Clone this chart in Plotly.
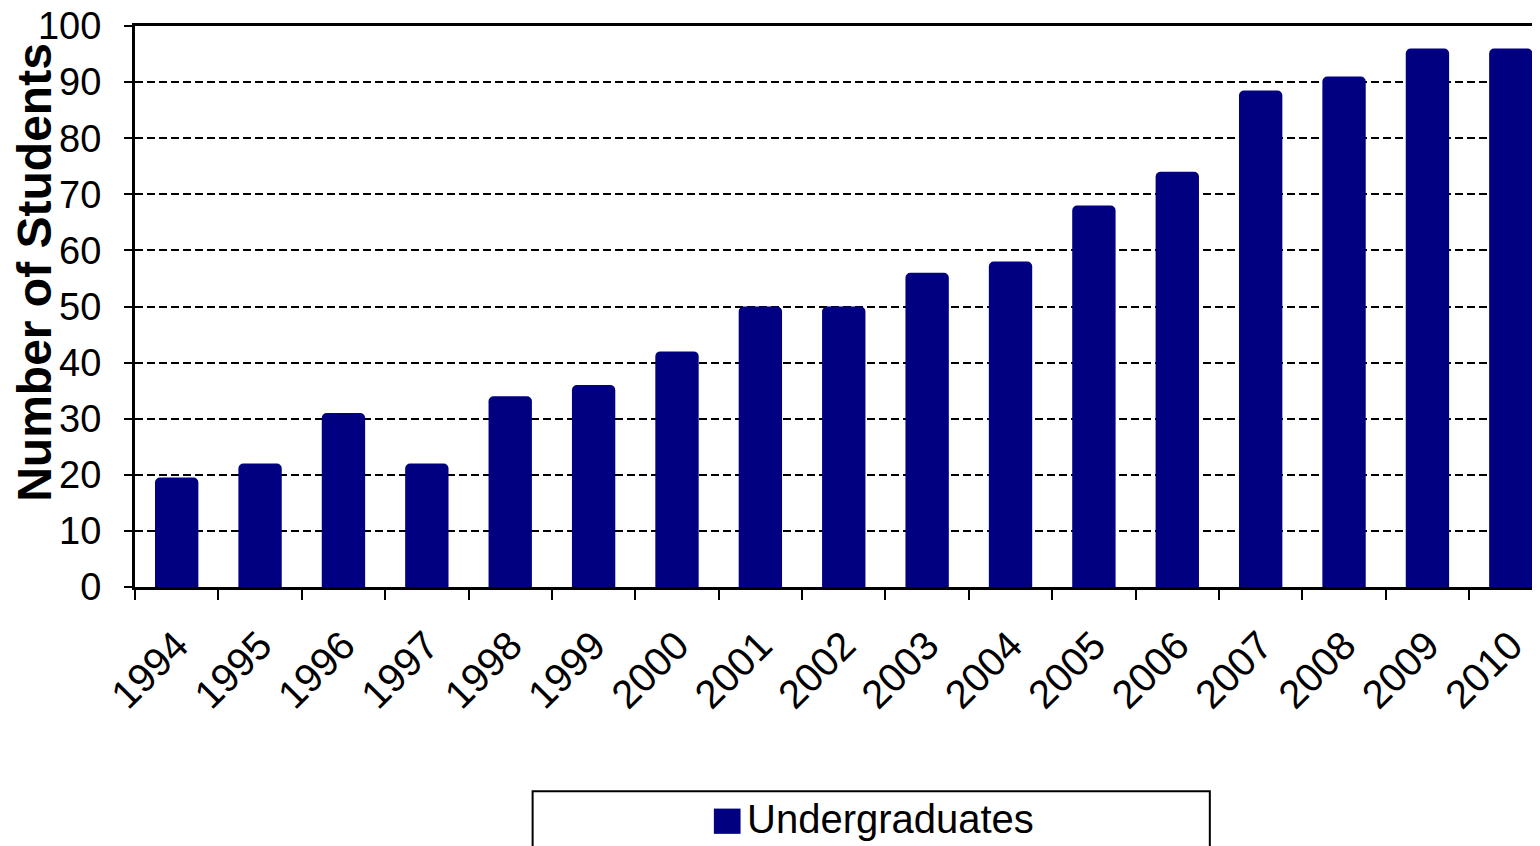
"""
Undergraduate enrolment per year: bar chart, Excel-style look.
"""

import plotly.graph_objects as go

years = ['1994', '1995', '1996', '1997', '1998', '1999', '2000', '2001', '2002',
         '2003', '2004', '2005', '2006', '2007', '2008', '2009', '2010']
undergraduates = [19.5, 22, 31, 22, 34, 36, 42, 50, 50,
                  56, 58, 68, 74, 88.5, 91, 96, 96]
y_ticks = [0, 10, 20, 30, 40, 50, 60, 70, 80, 90, 100]

NAVY = '#000080'
FONT = 'Arial, Liberation Sans, sans-serif'

fig = go.Figure()
fig.add_trace(go.Bar(
    x=years, y=undergraduates, name='Undergraduates',
    marker=dict(color=NAVY, line=dict(width=0), cornerradius=5),
    showlegend=False,
))

# page body has an 8px margin, so the figure is a bit smaller than the window
fig.update_layout(
    width=1532, height=838,
    margin=dict(l=127, r=0, t=18, b=259, autoexpand=False),
    plot_bgcolor='#FFFFFF', paper_bgcolor='#FFFFFF',
    bargap=0.48,
    font=dict(family=FONT, color='#000000'),
)

fig.update_xaxes(
    type='category', range=[-0.5, 16.35], automargin=False,
    showline=True, linecolor='#000000', linewidth=3, mirror=True,
    ticks='outside', tickson='boundaries', ticklen=10, tickwidth=2, tickcolor='#000000',
    tickangle=-45, tickfont=dict(size=40), ticklabelstandoff=16,
    showgrid=False,
)
fig.update_yaxes(
    range=[0, 100], tickvals=y_ticks, automargin=False,
    showline=True, linecolor='#000000', linewidth=3,
    ticks='outside', ticklen=8, tickwidth=2, tickcolor='#000000',
    tickfont=dict(size=38), ticklabelstandoff=15, ticklabeloverflow='allow',
    showgrid=True, gridcolor='#000000', gridwidth=2, griddash='8px,4px',
    zeroline=False,
)

# y title overlaps the tick labels like in the original
fig.add_annotation(
    text='<b>Number of Students</b>', textangle=-90,
    xref='paper', yref='paper', x=0, y=0.56,
    xanchor='center', yanchor='middle', xshift=-100,
    showarrow=False, font=dict(size=48, family=FONT, color='#000000'),
)

# legend box drawn by hand (wide frame, big swatch)
fig.add_shape(type='rect', xref='paper', yref='paper',
              x0=0.283, x1=0.765, y0=-0.364, y1=-0.52,
              line=dict(color='#000000', width=2), fillcolor='#FFFFFF')
fig.add_shape(type='rect', xref='paper', yref='paper',
              x0=0.412, x1=0.431, y0=-0.395, y1=-0.44,
              line=dict(width=0), fillcolor=NAVY)
fig.add_annotation(
    text='Undergraduates', xref='paper', yref='paper', x=0.434, y=-0.414,
    xanchor='left', yanchor='middle', showarrow=False,
    font=dict(size=40, family=FONT, color='#000000'),
)

fig.write_html('out.html')
